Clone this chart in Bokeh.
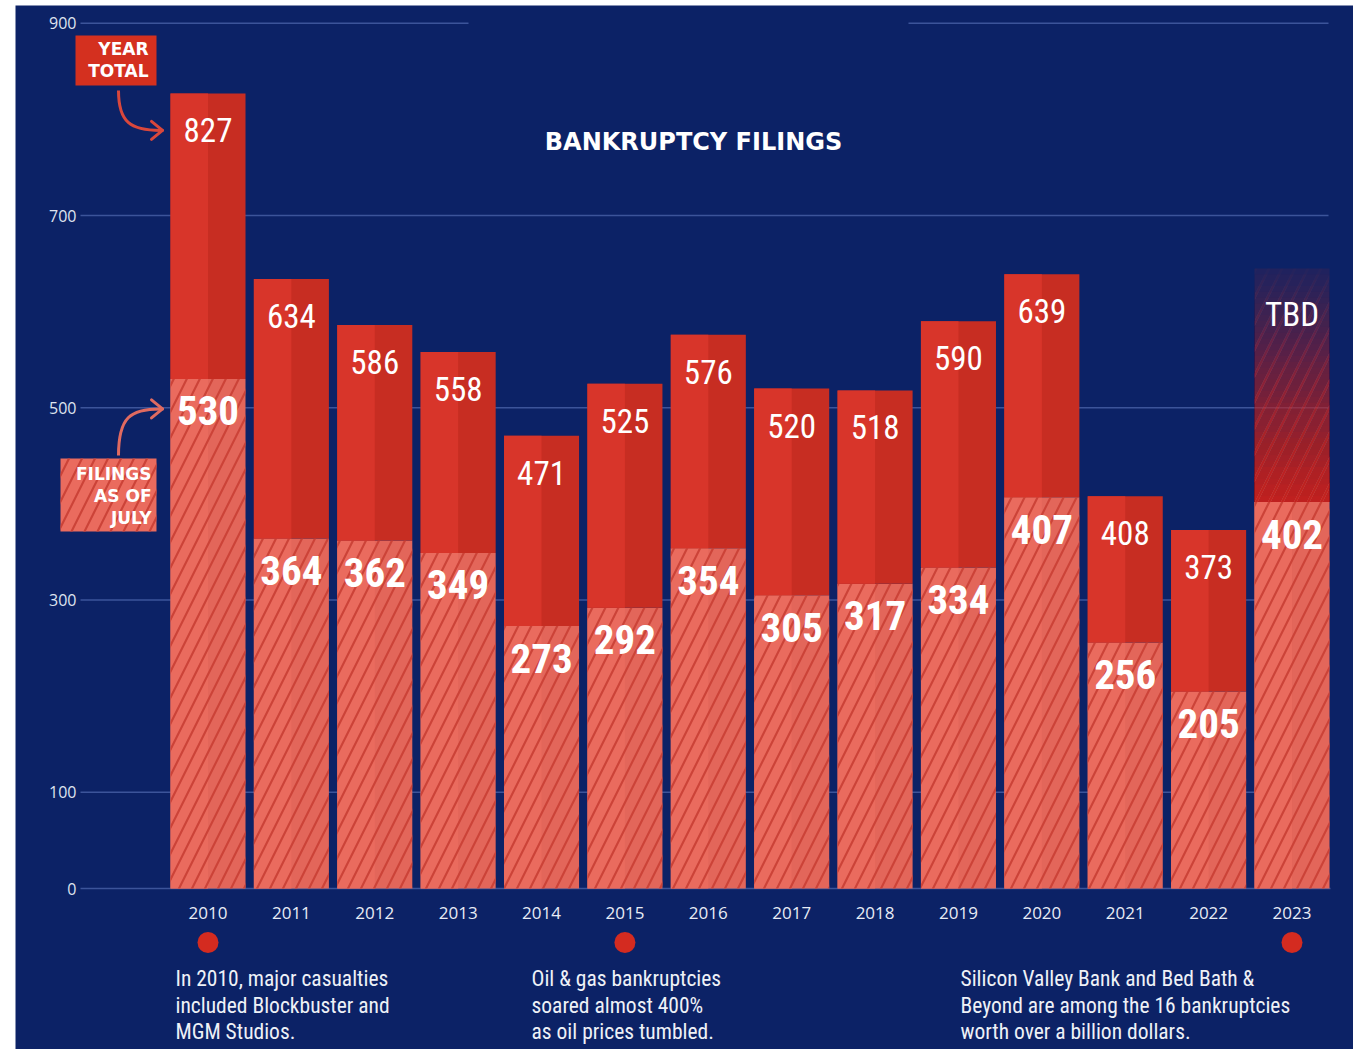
from bokeh.plotting import figure
from bokeh.models import Range1d, Spacer, ColumnDataSource
from bokeh.layouts import row, column
from bokeh.core.properties import value
from bokeh.embed import file_html
from bokeh.resources import INLINE

# ---------------- data ----------------
years = [2010, 2011, 2012, 2013, 2014, 2015, 2016, 2017, 2018, 2019, 2020, 2021, 2022, 2023]
year_totals = [827, 634, 586, 558, 471, 525, 576, 520, 518, 590, 639, 408, 373, None]
july_filings = [530, 364, 362, 349, 273, 292, 354, 305, 317, 334, 407, 256, 205, 402]
y_ticks = [0, 100, 300, 500, 700, 900]
tbd_year = 2023
tbd_label = "TBD"
title_text = "BANKRUPTCY FILINGS"
note_years = [2010, 2015, 2023]
note_lines = [
    ["In 2010, major casualties", "included Blockbuster and", "MGM Studios."],
    ["Oil & gas bankruptcies", "soared almost 400%", "as oil prices tumbled."],
    ["Silicon Valley Bank and Bed Bath &", "Beyond are among the 16 bankruptcies", "worth over a billion dollars."],
]

# ---------------- layout / styles ----------------
OFF_X, OFF_Y = 15, 5          # page position of the figure
W, H = 1338, 1044
PPU_X = 83.385                # pixels per year
PPU_Y = 0.9614                # pixels per filing
ZERO_Y = 888                  # page y of the zero line
X0 = 2010 - (207.5 - OFF_X) / PPU_X
Y_TOP = (ZERO_Y - OFF_Y) / PPU_Y


def px(page_x):
    return X0 + (page_x - OFF_X) / PPU_X


def py(page_y):
    return Y_TOP - (page_y - OFF_Y) / PPU_Y


def page_y_of(v):
    return ZERO_Y - PPU_Y * v


BG = "#0c2266"
GRID = "#4862a8"
RED_L, RED_R = "#d8352a", "#c72d22"
SAL_L, SAL_R = "#ea6b5e", "#e3665a"
HATCH = "#cc4338"
WHITE = "#ffffff"
HS, HW = 26, 2.2
NUM_FONT = value("Roboto Condensed, Liberation Sans Narrow, DejaVu Sans Condensed, Roboto, sans-serif")
TXT_FONT = value("Open Sans, sans-serif")
CAPS_FONT = value("DejaVu Sans, sans-serif")
HALF = 0.45
FADE_TOP = 645

p = figure(width=W, height=H, x_range=Range1d(X0, X0 + W / PPU_X),
           y_range=Range1d(Y_TOP - H / PPU_Y, Y_TOP),
           x_axis_location=None, y_axis_location=None,
           toolbar_location=None, output_backend="svg", min_border=0)
p.background_fill_color = BG
p.border_fill_color = BG
p.outline_line_color = None
p.xgrid.visible = False
p.ygrid.visible = False

# grid lines
gx0, gx1, gy = [], [], []
for t in y_ticks:
    if t == 900:
        gx0 += [px(80), px(908)]
        gx1 += [px(468), px(1328)]
        gy += [t, t]
    else:
        gx0.append(px(80))
        gx1.append(px(1330 if t == 0 else 1328))
        gy.append(t)
p.segment(x0=gx0, y0=gy, x1=gx1, y1=gy, line_color=GRID, line_width=1.5, line_alpha=0.8)

# y tick labels
p.text(x=[px(76)] * len(y_ticks), y=y_ticks, text=[str(t) for t in y_ticks],
       text_align="right", text_baseline="middle", text_color="#dfe4ef",
       text_font=TXT_FONT, text_font_size="16px")

# hatched July bars (two tones: full bar in the darker tone, left half lighter on top)
lower = ColumnDataSource(dict(
    l_left=[y - HALF for y in years], mid=list(years), r_right=[y + HALF for y in years],
    top=july_filings, bottom=[0] * len(years)))
p.quad(left="l_left", right="r_right", top="top", bottom="bottom", source=lower,
       fill_color=SAL_R, line_color=None)
p.quad(left="l_left", right="mid", top="top", bottom="bottom", source=lower,
       fill_color=SAL_L, line_color=None)
p.quad(left="l_left", right="r_right", top="top", bottom="bottom", source=lower,
       fill_alpha=0, line_color=None, hatch_pattern="/", hatch_color=HATCH,
       hatch_scale=HS, hatch_weight=HW)

# solid year-total tops
ky = [y for y, t in zip(years, year_totals) if t is not None]
kt = [t for t in year_totals if t is not None]
kj = [j for j, t in zip(july_filings, year_totals) if t is not None]
upper = ColumnDataSource(dict(l_left=[y - HALF for y in ky], mid=ky,
                              r_right=[y + HALF for y in ky], top=kt, bottom=kj))
p.quad(left="l_left", right="r_right", top="top", bottom="bottom", source=upper,
       fill_color=RED_R, line_color=None)
p.quad(left="l_left", right="mid", top="top", bottom="bottom", source=upper,
       fill_color=RED_L, line_color=None)

# fading TBD bar: overlapping quads from the base, so the composite alpha falls smoothly
tbd_base = july_filings[years.index(tbd_year)]
n = 40
step = (FADE_TOP - tbd_base) / n
target = [0.92 - 0.82 * (j / (n - 1)) for j in range(n)] + [0.0]
fa = [1 - (1 - target[j]) / (1 - target[j + 1]) for j in range(n)]
htarget = [0.6 - 0.57 * (j / (n - 1)) for j in range(n)] + [0.0]
ha = [1 - (1 - htarget[j]) / (1 - htarget[j + 1]) for j in range(n)]
fade = ColumnDataSource(dict(left=[tbd_year - HALF] * n, right=[tbd_year + HALF] * n,
                             bottom=[tbd_base] * n, top=[tbd_base + (j + 1) * step for j in range(n)],
                             a=fa, ha=ha))
p.quad(left="left", right="right", top="top", bottom="bottom", source=fade,
       fill_color="#d92c22", fill_alpha="a", line_color=None,
       hatch_pattern="/", hatch_color="#b8302c", hatch_alpha="ha",
       hatch_scale=HS, hatch_weight=HW)

# value labels
p.text(x=ky, y=kt, text=[str(t) for t in kt], text_align="center", text_baseline="middle",
       y_offset=37, text_color=WHITE, text_font=NUM_FONT, text_font_size="33px")
p.text(x=years, y=july_filings, text=[str(j) for j in july_filings], text_align="center",
       text_baseline="middle", y_offset=32, text_color=WHITE, text_font=NUM_FONT,
       text_font_size="41px", text_font_style="bold")
p.text(x=[tbd_year], y=[FADE_TOP], text=[tbd_label], text_align="center", text_baseline="middle",
       y_offset=46, text_color=WHITE, text_font=NUM_FONT, text_font_size="33px")

# year labels
p.text(x=years, y=[py(912)] * len(years), text=[str(y) for y in years], text_align="center",
       text_baseline="middle", text_color="#e8ecf5", text_font=TXT_FONT, text_font_size="17px")

# note dots and notes
p.scatter(x=note_years, y=[py(942)] * len(note_years), size=21, marker="circle",
          fill_color="#d42b20", line_color=None)
note_x = [px(175), px(531), px(960)]
for nx, lines in zip(note_x, note_lines):
    p.text(x=[nx] * len(lines), y=[py(978 + 26.5 * k) for k in range(len(lines))], text=lines,
           text_align="left", text_baseline="middle", text_color="#eef1f7",
           text_font=NUM_FONT, text_font_size="21.5px")

# title
p.text(x=[px(693)], y=[py(141)], text=[title_text], text_align="center", text_baseline="middle",
       text_color=WHITE, text_font=CAPS_FONT, text_font_size="24px", text_font_style="bold")

# YEAR TOTAL callout
p.quad(left=[px(75)], right=[px(156)], top=[py(35)], bottom=[py(85)],
       fill_color="#d4301f", line_color=None)
p.text(x=[px(148)] * 2, y=[py(48), py(70)], text=["YEAR", "TOTAL"], text_align="right",
       text_baseline="middle", text_color=WHITE, text_font=CAPS_FONT, text_font_size="17px",
       text_font_style="bold")
ay1 = page_y_of(year_totals[0]) + 37
p.bezier(x0=[px(118)], y0=[py(90)], x1=[px(160)], y1=[py(ay1)],
         cx0=[px(118)], cy0=[py(ay1 - 8)], cx1=[px(130)], cy1=[py(ay1)],
         line_color="#d9473c", line_width=3)
p.segment(x0=[px(162)] * 2, y0=[py(ay1)] * 2, x1=[px(151)] * 2, y1=[py(ay1 - 9), py(ay1 + 9)],
          line_color="#d9473c", line_width=3, line_cap="round")

# FILINGS AS OF JULY callout
p.quad(left=[px(60)], right=[px(156)], top=[py(458)], bottom=[py(531)],
       fill_color=SAL_L, line_color=None, hatch_pattern="/", hatch_color=HATCH,
       hatch_scale=HS, hatch_weight=HW)
p.text(x=[px(151)] * 3, y=[py(473), py(495), py(517)], text=["FILINGS", "AS OF", "JULY"],
       text_align="right", text_baseline="middle", text_color=WHITE, text_font=CAPS_FONT,
       text_font_size="17px", text_font_style="bold")
ay2 = page_y_of(july_filings[0]) + 30
p.bezier(x0=[px(118)], y0=[py(455)], x1=[px(160)], y1=[py(ay2)],
         cx0=[px(118)], cy0=[py(ay2 + 8)], cx1=[px(130)], cy1=[py(ay2)],
         line_color="#e06a60", line_width=3)
p.segment(x0=[px(162)] * 2, y0=[py(ay2)] * 2, x1=[px(151)] * 2, y1=[py(ay2 - 9), py(ay2 + 9)],
          line_color="#e06a60", line_width=3, line_cap="round")

layout = column(Spacer(width=W + OFF_X, height=OFF_Y),
                row(Spacer(width=OFF_X, height=H), p))
open("out.html", "w").write(file_html(layout, INLINE))
